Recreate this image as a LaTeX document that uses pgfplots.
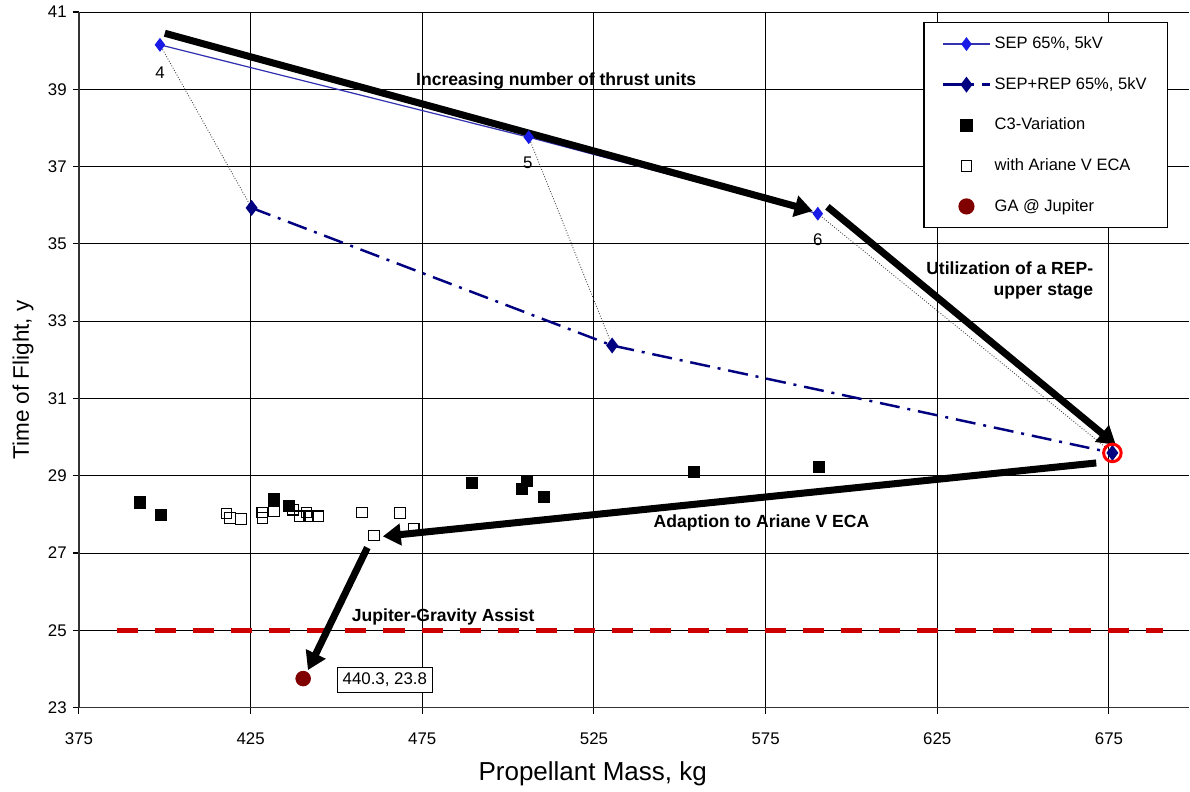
\documentclass[border=0pt]{standalone}
\usepackage{fontspec}
\setmainfont{Liberation Sans}
\usepackage{pgfplots}
\pgfplotsset{compat=1.18}
\usetikzlibrary{arrows.meta}
\definecolor{sepblue}{HTML}{3333B0}
\definecolor{sepmark}{HTML}{1A1AE6}
\definecolor{navyb}{HTML}{000080}
\definecolor{gared}{HTML}{800000}
\definecolor{dred}{HTML}{CC0000}
\begin{document}
\begin{tikzpicture}
\begin{axis}[
  scale only axis, width=22.22cm, height=13.92cm,
  xmin=375, xmax=698.4, ymin=23, ymax=41,
  xtick={375,425,...,675}, ytick={23,25,...,41},
  grid=major, grid style={black, line width=0.55pt},
  axis x line*=bottom, axis y line*=left,
  axis line style={black!80, line width=0.8pt},
  tick style={black, line width=0.6pt},
  tick align=outside, major tick length=0.12cm,
  ticklabel style={font=\fontsize{9.6}{11}\selectfont},
  xticklabel style={yshift=-0.26cm},
  /pgf/number format/assume math mode=true,
  xlabel={Propellant Mass, kg}, ylabel={Time of Flight, y},
  xlabel style={font=\fontsize{14.8}{16}\selectfont, at={(ticklabel cs:0.4627)}, anchor=north, yshift=-0.1cm},
  ylabel style={font=\fontsize{12.8}{14}\selectfont, at={(ticklabel cs:0.471)}, yshift=0.05cm},
  legend image code/.code={\draw[mark repeat=2,mark phase=2,#1] plot coordinates {(0cm,0cm)(0.47cm,0cm)(0.94cm,0cm)};},
  legend cell align=left,
  legend style={at={(rel axis cs:0.7606,0.9856)}, anchor=north west, draw=black, line width=0.8pt, fill=white,
    font=\fontsize{9.4}{11}\selectfont, row sep=10.8pt, inner xsep=10pt, inner ysep=6pt},
]
\addplot[sepblue, line width=0.7pt, mark=diamond*, mark size=3.4pt, mark options={fill=sepmark, draw=sepmark}]
  coordinates {(398.6,40.15) (506,37.76) (590.2,35.78)};
\addlegendentry{SEP 65\%, 5kV}
\addplot[navyb, line width=1.4pt, dash pattern=on 11.4pt off 4.5pt on 1.7pt off 4.5pt, mark=diamond*, mark size=3.4pt, mark options={solid, fill=navyb}]
  coordinates {(425.3,35.93) (530.3,32.37) (676,29.59)};
\addlegendentry{SEP+REP 65\%, 5kV}
\addplot[only marks, mark=square*, mark size=3.2pt, black]
  coordinates {(392.8,28.31) (398.8,27.99) (431.8,28.40) (436.2,28.23) (489.5,28.81) (505.5,28.86) (503.9,28.66) (510.4,28.45) (554,29.10) (590.5,29.23)};
\addlegendentry{C3-Variation}
\addplot[only marks, mark=square, mark size=3pt, mark options={fill=white, draw=black, line width=0.6pt}]
  coordinates {(418,28.02) (419,27.91) (422.2,27.88) (428.4,28.05) (428.5,27.91) (431.8,28.08) (437.4,28.12) (439.3,27.95) (441.3,28.05) (441.8,27.95) (444.7,27.95) (457.5,28.05) (468.5,28.04) (472.5,27.62) (461,27.45)};
\addlegendentry{with Ariane V ECA}
\addplot[only marks, mark=*, mark size=4.2pt, gared] coordinates {(440.3,23.75)};
\addlegendentry{GA @ Jupiter}
% connectors
\addplot[black!75, line width=0.5pt, densely dotted, forget plot] coordinates {(398.6,40.15) (425.3,35.93)};
\addplot[black!75, line width=0.5pt, densely dotted, forget plot] coordinates {(506,37.76) (530.3,32.37)};
\addplot[black!75, line width=0.5pt, densely dotted, forget plot] coordinates {(590.2,35.78) (676,29.59)};
% red line
\addplot[dred, line width=2.8pt, dash pattern=on 12pt off 9.7pt, forget plot] coordinates {(386,25) (690.6,25)};
% ring
\addplot[only marks, mark=o, mark size=5pt, red, mark options={line width=1.7pt}, forget plot] coordinates {(676,29.59)};
% arrows
\draw[black, line width=4pt, -{Triangle[length=0.36cm, width=0.42cm]}] (axis cs:400,40.45) -- (axis cs:588.7,35.85);
\draw[black, line width=4pt, -{Triangle[length=0.36cm, width=0.42cm]}] (axis cs:593,35.96) -- (axis cs:677,29.80);
\draw[black, line width=4pt, -{Triangle[length=0.36cm, width=0.42cm]}] (axis cs:671.3,29.33) -- (axis cs:463.5,27.43);
\draw[black, line width=4pt, -{Triangle[length=0.36cm, width=0.42cm]}] (axis cs:459,27.14) -- (axis cs:441.7,23.97);
% texts
\node[font=\bfseries\fontsize{10}{12}\selectfont] at (axis cs:514,39.21) {Increasing number of thrust units};
\node[font=\bfseries\fontsize{10}{12}\selectfont, align=right, anchor=east] at (axis cs:672.2,34.04) {Utilization of a REP-\\upper stage};
\node[font=\bfseries\fontsize{10}{12}\selectfont] at (axis cs:573.8,27.79) {Adaption to Ariane V ECA};
\node[font=\bfseries\fontsize{10}{12}\selectfont] at (axis cs:481.1,25.35) {Jupiter-Gravity Assist};
\node[font=\fontsize{9.6}{11}\selectfont] at (axis cs:398.6,39.43) {4};
\node[font=\fontsize{9.6}{11}\selectfont] at (axis cs:505.7,37.1) {5};
\node[font=\fontsize{9.6}{11}\selectfont] at (axis cs:590.2,35.1) {6};
\node[draw=black, fill=white, line width=0.6pt, font=\fontsize{9.6}{11}\selectfont, inner sep=3pt] at (axis cs:464.1,23.71) {440.3, 23.8};
\end{axis}
\path (-1.58cm,-1.58cm) rectangle (22.22cm,14.16cm);
\end{tikzpicture}
\end{document}
